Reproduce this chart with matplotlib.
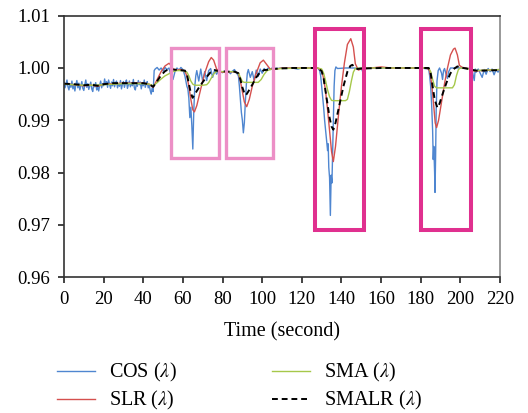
import matplotlib
matplotlib.use("Agg")
import numpy as np
from matplotlib import pyplot as plt
from matplotlib.patches import Rectangle

plt.rcParams['font.family'] = ['Liberation Serif', 'DejaVu Serif']
plt.rcParams['mathtext.fontset'] = 'stix'

# COS (λ): noisy raw series
cos_t = [0, 0.5, 1, 1.5, 2, 2.5, 3, 3.5, 4, 4.5, 5, 5.5, 6, 6.5, 7, 7.5, 8, 8.5, 9, 9.5,
         10, 10.5, 11, 11.5, 12, 12.5, 13, 13.5, 14, 14.5, 15, 15.5, 16, 16.5, 17, 17.5,
         18, 18.5, 19, 19.5, 20, 20.5, 21, 21.5, 22, 22.5, 23, 23.5, 24, 24.5, 25, 25.5,
         26, 26.5, 27, 27.5, 28, 28.5, 29, 29.5, 30, 30.5, 31, 31.5, 32, 32.5, 33, 33.5,
         34, 34.5, 35, 35.5, 36, 36.5, 37, 37.5, 38, 38.5, 39, 39.5, 40, 40.5, 41, 41.5,
         42, 42.5, 43, 43.5, 44, 44.5, 45, 45.5,
         46, 47, 48, 49, 50, 51, 52, 53, 54, 55, 56, 57, 58, 59, 60, 61, 62, 62.5, 63,
         63.5, 64, 64.5, 65, 65.5, 66, 66.5, 67, 68, 69, 70, 71, 72, 73, 74, 75, 76, 77, 78,
         79, 80, 81, 82, 83, 84, 85, 86, 87, 88, 88.5, 89, 89.5, 90, 90.5, 91, 91.5, 92,
         92.5, 93, 94, 95, 96, 97, 98, 99, 100, 101, 102, 103, 104, 105,
         108, 110, 112, 115, 118, 120, 124, 128,
         129, 129.5, 130, 130.5, 131, 131.5, 132, 132.5, 133, 133.3, 133.6, 134, 134.4,
         134.8, 135.2, 135.5, 135.9, 136.3, 136.7, 137.2, 138, 142, 146, 149, 150, 150.7,
         151.5, 155, 160, 165, 170, 175, 180, 184,
         184.5, 185, 185.5, 186, 186.3, 186.6, 187, 187.2, 187.5, 187.8, 188.2, 188.8,
         189.5, 190.5, 191, 191.5, 192, 193, 193.5, 194, 195, 198, 201, 204, 205,
         206, 207, 207.5, 208, 209, 210, 211, 212, 213, 214, 215, 216, 217, 218, 219, 220]
cos_v = [0.9972, 0.9962, 0.9968, 0.9977, 0.9964, 0.9958, 0.9970, 0.9963, 0.9975, 0.9960,
         0.9967, 0.9956, 0.9969, 0.9976, 0.9962, 0.9971, 0.9958, 0.9966, 0.9974, 0.9961,
         0.9957, 0.9968, 0.9977, 0.9963, 0.9970, 0.9959, 0.9966, 0.9973, 0.9960, 0.9955,
         0.9969, 0.9964, 0.9972, 0.9958, 0.9963, 0.9956, 0.9967, 0.9975, 0.9962, 0.9970,
         0.9966, 0.9979, 0.9968, 0.9974, 0.9963, 0.9977, 0.9969, 0.9961, 0.9973, 0.9966,
         0.9978, 0.9964, 0.9971, 0.9975, 0.9962, 0.9970, 0.9965, 0.9976, 0.9960, 0.9969,
         0.9974, 0.9963, 0.9971, 0.9977, 0.9961, 0.9968, 0.9975, 0.9964, 0.9972, 0.9966,
         0.9978, 0.9962, 0.9958, 0.9970, 0.9965, 0.9976, 0.9968, 0.9973, 0.9960, 0.9971,
         0.9966, 0.9977, 0.9963, 0.9970, 0.9974, 0.9962, 0.9968, 0.9957, 0.9950, 0.9962,
         0.9955, 0.9995,
         0.9998, 1.0001, 0.9996, 1.0000, 0.9994, 1.0001, 0.9997, 1.0000, 0.9985, 0.9978,
         0.9993, 1.0000, 0.9996, 1.0001, 0.9997, 0.9985, 0.9965, 0.9960, 0.9942,
         0.9905, 0.9925, 0.9890, 0.9845, 0.9920, 0.9965, 0.9985, 0.9995, 0.9975, 0.9998,
         0.9974, 0.9993, 0.9976, 0.9995, 0.9999, 0.9982, 0.9996, 0.9988, 0.9995,
         0.9993, 0.9991, 0.9994, 0.9990, 0.9993, 0.9989, 0.9994, 0.9997, 0.9991, 0.9985,
         0.9965, 0.9940, 0.9915, 0.9900, 0.9876, 0.9895, 0.9935, 0.9968,
         0.9990, 0.9997, 0.9982, 0.9993, 0.9975, 0.9996, 0.9984, 0.9998, 0.9990, 0.9999,
         0.9994, 1.0000, 0.9997, 1.0000,
         0.9999, 1.0000, 0.9999, 1.0000, 0.9998, 1.0000, 1.0000, 1.0000,
         0.9995, 0.9985, 0.9965, 0.9945, 0.9925, 0.9900, 0.9880, 0.9860, 0.9842, 0.9855,
         0.9810, 0.9790, 0.9718,
         0.9795, 0.9780, 0.9830, 0.9900, 0.9965, 0.9995, 1.0002, 0.9999, 1.0000, 1.0000,
         0.9999, 1.0000, 0.9993,
         0.9999, 1.0000, 1.0000, 1.0000, 1.0000, 1.0000, 1.0000, 0.9998,
         0.9985, 0.9965, 0.9930, 0.9880, 0.9825, 0.9850, 0.9800, 0.9762, 0.9830, 0.9920,
         0.9975, 0.9995,
         1.0000, 0.9990, 0.9978, 0.9995, 0.9999, 0.9985, 0.9980, 0.9992, 1.0000, 1.0000,
         1.0000, 0.9999, 1.0000,
         0.9995, 0.9976, 0.9998, 0.9992, 0.9998, 0.9990, 0.9982, 0.9997, 0.9988, 0.9999,
         0.9993, 0.9998, 0.9987, 0.9997, 0.9992, 0.9998]

# SLR (λ)
slr_t = [0, 5, 10, 14, 17, 20, 25, 30, 35, 40, 43, 45, 47, 49, 51, 53, 54, 55, 57, 59,
         61, 62, 63, 64, 65, 65.8, 67, 69, 71, 73, 74.3, 75.5, 77, 79, 82, 86, 88, 89,
         90, 91, 92.2, 93.5, 95, 97, 99, 100.6, 102, 104, 107, 110, 120, 128, 130, 131,
         132, 133, 134, 135, 135.9, 137, 138.5, 140, 141.5, 143, 144.7, 146, 147, 148.5,
         150, 155, 160, 165, 175, 183, 184.5, 185.5, 186.5, 187.3, 188, 189, 190.5, 192,
         193.5, 195, 196.5, 197.3, 198.5, 199.5, 201, 203, 205, 207, 210, 215, 220]
slr_v = [0.9970, 0.9968, 0.9966, 0.9967, 0.9965, 0.9969, 0.9970, 0.9971, 0.9971, 0.9971,
         0.9969, 0.9963, 0.9978, 0.9993, 1.0004, 1.0009, 1.0005, 0.9998, 0.9996, 0.9997,
         0.9994, 0.9985, 0.9965, 0.9940, 0.9920, 0.9916, 0.9928, 0.9960, 0.9990, 1.0012,
         1.0020, 1.0015, 0.9998, 0.9992, 0.9992, 0.9993, 0.9990, 0.9975,
         0.9955, 0.9935, 0.9926, 0.9940, 0.9965, 0.9990, 1.0010, 1.0015, 1.0008, 0.9998,
         0.9998, 1.0000, 1.0000, 1.0000, 0.9995, 0.9980,
         0.9955, 0.9920, 0.9880, 0.9840, 0.9821, 0.9850, 0.9910, 0.9965, 1.0010, 1.0045,
         1.0056, 1.0040, 1.0008, 0.9996,
         0.9998, 1.0000, 1.0002, 1.0000, 1.0000, 1.0000, 0.9995, 0.9970, 0.9930, 0.9895,
         0.9886, 0.9900, 0.9935, 0.9970,
         1.0000, 1.0025, 1.0036, 1.0038, 1.0025, 1.0005, 1.0001, 1.0000, 0.9998, 0.9994,
         0.9995, 0.9996, 0.9997]

# SMA (λ)
sma_t = [0, 5, 10, 15, 20, 25, 30, 35, 40, 43, 45, 47, 49, 51, 53, 55, 57, 60, 62, 63,
         64, 65, 66, 70, 72, 73, 74.5, 76, 77.5, 80, 86, 88, 89, 90, 91, 98, 99.5, 101,
         102.5, 105, 110, 128, 130, 131, 132, 133, 134, 135, 136, 142, 143, 144, 145,
         146, 147, 150, 175, 184, 185, 186, 187, 188, 196, 197, 198, 199, 200, 205, 207, 220]
sma_v = [0.9969, 0.9968, 0.9967, 0.9967, 0.9968, 0.9969, 0.9970, 0.9970, 0.9970, 0.9969,
         0.9966, 0.9972, 0.9979, 0.9985, 0.9989, 0.9993, 0.9995, 0.9995, 0.9992, 0.9985,
         0.9975, 0.9969, 0.9967, 0.9967, 0.9968, 0.9972, 0.9982, 0.9991, 0.9994, 0.9993,
         0.9993, 0.9990, 0.9982, 0.9974, 0.99725, 0.99725, 0.9978, 0.9988,
         0.9995, 0.9998, 0.9999, 1.0000, 0.9998, 0.9990, 0.9975, 0.9958, 0.9945, 0.9938,
         0.99375, 0.99375, 0.9940, 0.9955, 0.9975,
         0.9992, 0.9999, 1.0000, 1.0000, 1.0000, 0.9993, 0.9978, 0.9965, 0.9962, 0.9962,
         0.9968, 0.9985, 0.9997, 1.0000, 0.9998, 0.9995, 0.9997]

# SMALR (λ)
smalr_t = [0, 5, 10, 14, 17, 20, 25, 30, 35, 40, 43, 45, 47, 49, 51, 53, 55, 58, 61, 62,
           63, 64, 64.9, 66, 68, 70, 72, 74, 76, 78, 82, 86, 88, 89, 90, 91, 91.8, 93, 95,
           97, 99, 101, 104, 108, 115, 128, 130, 131, 132, 133, 134, 135, 135.9, 137, 139,
           141, 143, 144.5, 145.5, 146.5, 148, 150, 160, 175, 184, 185, 186, 187, 188.4,
           189.5, 191, 193, 195, 197, 198.5, 200, 203, 205, 208, 212, 220]
smalr_v = [0.9970, 0.9969, 0.9967, 0.9968, 0.9966, 0.9969, 0.9971, 0.9971, 0.9971, 0.9971,
           0.9969, 0.9964, 0.9975, 0.9986, 0.9994, 0.9998, 0.9997, 0.9996, 0.9995, 0.9988,
           0.9970, 0.9952, 0.9943, 0.9950, 0.9962, 0.9973, 0.9983, 0.9992, 0.9996, 0.9994,
           0.9993, 0.9993, 0.9990, 0.9978, 0.9963, 0.9952, 0.9948, 0.9955, 0.9968,
           0.9982, 0.9992, 0.9996, 0.9997, 0.9999, 1.0000, 1.0000, 0.9994, 0.9980, 0.9955,
           0.9930, 0.9905, 0.9888, 0.9882, 0.9895, 0.9930,
           0.9965, 0.9993, 1.0004, 1.0006, 1.0002, 0.9998, 0.9999, 1.0000, 1.0000, 1.0000,
           0.9990, 0.9965, 0.9940, 0.9924,
           0.9932, 0.9950, 0.9972, 0.9990, 0.9999, 1.0003, 1.0001, 0.9999, 0.9997, 0.9995,
           0.9995, 0.9996]

# highlighted regions: (t_start, t_end, v_low, v_high)
light_boxes = [(54.0, 78.2, 0.9827, 1.0038), (81.7, 105.4, 0.9827, 1.0038)]
strong_boxes = [(126.5, 151.5, 0.9691, 1.0075), (180.2, 205.3, 0.9691, 1.0075)]

fig = plt.figure(figsize=(5.28, 4.13), dpi=100)
ax = fig.add_axes([0.1212, 0.329, 0.8258, 0.633])

ax.plot(cos_t, cos_v, color='#4f86d0', lw=1.0, label=r'COS ($\lambda$)')
ax.plot(slr_t, slr_v, color='#d5504e', lw=1.0, label=r'SLR ($\lambda$)')
ax.plot(sma_t, sma_v, color='#a6c84a', lw=1.0, label=r'SMA ($\lambda$)')
ax.plot(smalr_t, smalr_v, color='black', lw=1.4, ls=(0, (3, 2)), label=r'SMALR ($\lambda$)')

for t0, t1, lo, hi in light_boxes:
    ax.add_patch(Rectangle((t0, lo), t1 - t0, hi - lo, fill=False,
                           edgecolor='#ec8fc6', lw=2.4, zorder=5))
for t0, t1, lo, hi in strong_boxes:
    ax.add_patch(Rectangle((t0, lo), t1 - t0, hi - lo, fill=False,
                           edgecolor='#e0308f', lw=2.9, zorder=5))

ax.set_xlim(0, 220)
ax.set_ylim(0.96, 1.01)
ax.set_xticks(np.arange(0, 221, 20))
ax.set_yticks([0.96, 0.97, 0.98, 0.99, 1.00, 1.01])
ax.set_yticklabels(['0.96', '0.97', '0.98', '0.99', '1.00', '1.01'])
ax.tick_params(axis='both', labelsize=13.5, direction='out', length=4, width=1.2,
               color='#222222', pad=6)
for side in ['left', 'bottom', 'top']:
    ax.spines[side].set_color('#333333')
    ax.spines[side].set_linewidth(1.2)
ax.spines['right'].set_color('#888888')
ax.spines['right'].set_linewidth(1.2)

ax.set_xlabel('Time (second)', fontsize=14.5, labelpad=10)

fig.legend(loc='upper left', bbox_to_anchor=(0.108, 0.125), ncol=2, frameon=False,
           fontsize=14.5, handlelength=1.9, handletextpad=0.7, labelspacing=0.25,
           columnspacing=4.7, borderaxespad=0, borderpad=0)

fig.savefig('out.png', dpi=100)
